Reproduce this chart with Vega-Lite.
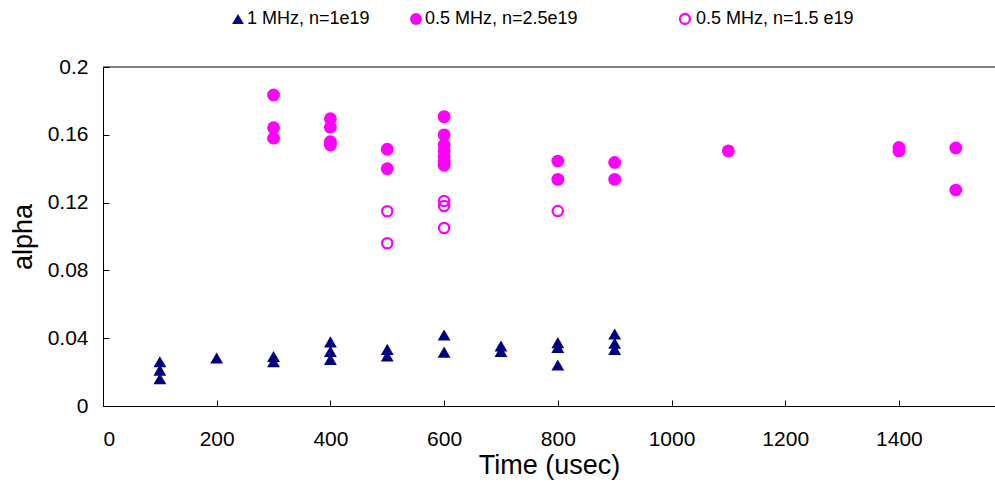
{
  "$schema": "https://vega.github.io/schema/vega-lite/v6.json",
  "width": 892,
  "height": 339,
  "autosize": {"type": "none"},
  "padding": {"left": 103, "top": 67, "right": 0, "bottom": 85},
  "background": "white",
  "config": {
    "view": {"stroke": null},
    "font": "Liberation Sans"
  },
  "datasets": {
    "pts": [
      {"time": 100, "alpha": 0.0261, "series": "1 MHz, n=1e19"},
      {"time": 100, "alpha": 0.0212, "series": "1 MHz, n=1e19"},
      {"time": 100, "alpha": 0.0161, "series": "1 MHz, n=1e19"},
      {"time": 200, "alpha": 0.0283, "series": "1 MHz, n=1e19"},
      {"time": 300, "alpha": 0.0292, "series": "1 MHz, n=1e19"},
      {"time": 300, "alpha": 0.0262, "series": "1 MHz, n=1e19"},
      {"time": 400, "alpha": 0.0378, "series": "1 MHz, n=1e19"},
      {"time": 400, "alpha": 0.0322, "series": "1 MHz, n=1e19"},
      {"time": 400, "alpha": 0.0275, "series": "1 MHz, n=1e19"},
      {"time": 500, "alpha": 0.0334, "series": "1 MHz, n=1e19"},
      {"time": 500, "alpha": 0.0295, "series": "1 MHz, n=1e19"},
      {"time": 600, "alpha": 0.0419, "series": "1 MHz, n=1e19"},
      {"time": 600, "alpha": 0.0318, "series": "1 MHz, n=1e19"},
      {"time": 700, "alpha": 0.0354, "series": "1 MHz, n=1e19"},
      {"time": 700, "alpha": 0.0322, "series": "1 MHz, n=1e19"},
      {"time": 800, "alpha": 0.0374, "series": "1 MHz, n=1e19"},
      {"time": 800, "alpha": 0.0346, "series": "1 MHz, n=1e19"},
      {"time": 800, "alpha": 0.0242, "series": "1 MHz, n=1e19"},
      {"time": 900, "alpha": 0.0425, "series": "1 MHz, n=1e19"},
      {"time": 900, "alpha": 0.0370, "series": "1 MHz, n=1e19"},
      {"time": 900, "alpha": 0.0334, "series": "1 MHz, n=1e19"},
      {"time": 300, "alpha": 0.1835, "series": "0.5 MHz, n=2.5e19"},
      {"time": 300, "alpha": 0.1642, "series": "0.5 MHz, n=2.5e19"},
      {"time": 300, "alpha": 0.1580, "series": "0.5 MHz, n=2.5e19"},
      {"time": 400, "alpha": 0.1695, "series": "0.5 MHz, n=2.5e19"},
      {"time": 400, "alpha": 0.1645, "series": "0.5 MHz, n=2.5e19"},
      {"time": 400, "alpha": 0.1560, "series": "0.5 MHz, n=2.5e19"},
      {"time": 400, "alpha": 0.1540, "series": "0.5 MHz, n=2.5e19"},
      {"time": 500, "alpha": 0.1515, "series": "0.5 MHz, n=2.5e19"},
      {"time": 500, "alpha": 0.1400, "series": "0.5 MHz, n=2.5e19"},
      {"time": 600, "alpha": 0.1707, "series": "0.5 MHz, n=2.5e19"},
      {"time": 600, "alpha": 0.1600, "series": "0.5 MHz, n=2.5e19"},
      {"time": 600, "alpha": 0.1540, "series": "0.5 MHz, n=2.5e19"},
      {"time": 600, "alpha": 0.1505, "series": "0.5 MHz, n=2.5e19"},
      {"time": 600, "alpha": 0.1470, "series": "0.5 MHz, n=2.5e19"},
      {"time": 600, "alpha": 0.1440, "series": "0.5 MHz, n=2.5e19"},
      {"time": 600, "alpha": 0.1420, "series": "0.5 MHz, n=2.5e19"},
      {"time": 800, "alpha": 0.1445, "series": "0.5 MHz, n=2.5e19"},
      {"time": 800, "alpha": 0.1337, "series": "0.5 MHz, n=2.5e19"},
      {"time": 900, "alpha": 0.1437, "series": "0.5 MHz, n=2.5e19"},
      {"time": 900, "alpha": 0.1337, "series": "0.5 MHz, n=2.5e19"},
      {"time": 1100, "alpha": 0.1505, "series": "0.5 MHz, n=2.5e19"},
      {"time": 1400, "alpha": 0.1525, "series": "0.5 MHz, n=2.5e19"},
      {"time": 1400, "alpha": 0.1505, "series": "0.5 MHz, n=2.5e19"},
      {"time": 1500, "alpha": 0.1522, "series": "0.5 MHz, n=2.5e19"},
      {"time": 1500, "alpha": 0.1274, "series": "0.5 MHz, n=2.5e19"},
      {"time": 500, "alpha": 0.1149, "series": "0.5 MHz, n=1.5 e19"},
      {"time": 500, "alpha": 0.0960, "series": "0.5 MHz, n=1.5 e19"},
      {"time": 600, "alpha": 0.1210, "series": "0.5 MHz, n=1.5 e19"},
      {"time": 600, "alpha": 0.1180, "series": "0.5 MHz, n=1.5 e19"},
      {"time": 600, "alpha": 0.1050, "series": "0.5 MHz, n=1.5 e19"},
      {"time": 800, "alpha": 0.1150, "series": "0.5 MHz, n=1.5 e19"}
    ],
    "frame": [{"top": 0.2}]
  },
  "encoding": {
    "x": {
      "field": "time", "type": "quantitative",
      "scale": {"domain": [0, 1569], "nice": false},
      "axis": {"title": "Time (usec)", "values": [0, 200, 400, 600, 800, 1000, 1200, 1400], "format": "d", "grid": false,
               "domainColor": "black", "tickColor": "black", "labelColor": "black", "titleColor": "black",
               "labelFont": "Liberation Sans", "titleFont": "Liberation Sans", "titleFontWeight": "normal",
               "labelFontSize": 21, "titleFontSize": 27,
               "tickSize": -6, "labelPadding": 28, "titlePadding": 3}
    },
    "y": {
      "field": "alpha", "type": "quantitative",
      "scale": {"domain": [0, 0.2], "nice": false},
      "axis": {"title": "alpha", "values": [0, 0.04, 0.08, 0.12, 0.16, 0.2], "format": "~g", "grid": false,
               "domainColor": "black", "tickColor": "black", "labelColor": "black", "titleColor": "black",
               "labelFont": "Liberation Sans", "titleFont": "Liberation Sans", "titleFontWeight": "normal",
               "labelFontSize": 21, "titleFontSize": 27,
               "tickSize": -6, "labelPadding": 21, "titlePadding": 10}
    }
  },
  "layer": [
    {
      "data": {"name": "frame"},
      "mark": {"type": "rule", "color": "black", "strokeWidth": 1},
      "encoding": {"y": {"field": "top", "type": "quantitative"}, "x": null}
    },
    {
      "data": {"name": "pts"},
      "transform": [{"filter": "datum.series != '0.5 MHz, n=1.5 e19'"}],
      "mark": {"type": "point", "filled": true, "opacity": 1, "size": 165},
      "encoding": {
        "shape": {
          "field": "series", "type": "nominal",
          "scale": {"domain": ["1 MHz, n=1e19", "0.5 MHz, n=2.5e19"], "range": ["triangle-up", "circle"]},
          "legend": {
            "title": null, "orient": "none", "direction": "horizontal",
            "legendX": 126, "legendY": -57,
            "labelFontSize": 18, "labelFont": "Liberation Sans", "labelColor": "black",
            "symbolSize": 140, "labelOffset": 0, "columnPadding": 37, "labelLimit": 300
          }
        },
        "color": {
          "field": "series", "type": "nominal",
          "scale": {"domain": ["1 MHz, n=1e19", "0.5 MHz, n=2.5e19"], "range": ["#000080", "#FF00FF"]},
          "legend": {
            "title": null, "orient": "none", "direction": "horizontal",
            "legendX": 126, "legendY": -57,
            "labelFontSize": 18, "labelFont": "Liberation Sans", "labelColor": "black",
            "symbolSize": 140, "labelOffset": 0, "columnPadding": 37, "labelLimit": 300
          }
        }
      }
    },
    {
      "data": {"name": "pts"},
      "transform": [{"filter": "datum.series == '0.5 MHz, n=1.5 e19'"}],
      "mark": {"type": "point", "shape": "circle", "filled": false, "fill": "transparent", "strokeWidth": 2.3, "opacity": 1, "size": 105},
      "encoding": {
        "stroke": {
          "field": "series", "type": "nominal",
          "scale": {"domain": ["0.5 MHz, n=1.5 e19"], "range": ["#FF00FF"]},
          "legend": {
            "title": null, "orient": "none", "direction": "horizontal",
            "legendX": 573, "legendY": -57,
            "labelFontSize": 18, "labelFont": "Liberation Sans", "labelColor": "black",
            "symbolType": "circle", "symbolSize": 100, "symbolStrokeWidth": 2.3, "symbolFillColor": "transparent", "labelOffset": 2, "labelLimit": 300
          }
        }
      }
    }
  ]
}
